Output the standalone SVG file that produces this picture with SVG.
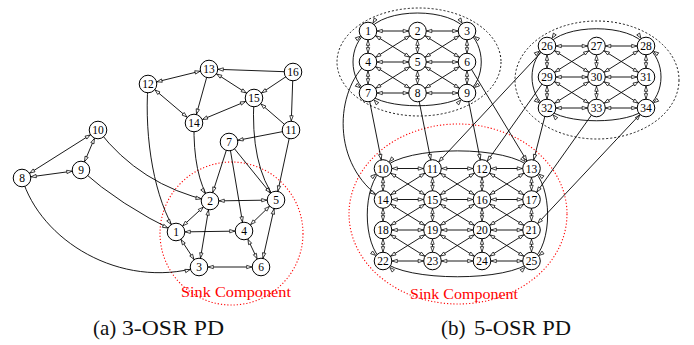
<svg xmlns="http://www.w3.org/2000/svg" width="694" height="345" viewBox="0 0 694 345">
<style>
.e{stroke:#000;stroke-width:0.9;fill:none}
.d{marker-start:url(#m);marker-end:url(#m)}
.s{marker-end:url(#m)}
.n circle{fill:#fff;stroke:#000;stroke-width:1}
.n text{font-family:"Liberation Serif",serif;font-size:11.5px;text-anchor:middle;fill:#000}
.red{fill:none;stroke:#f00;stroke-width:1.1;stroke-dasharray:1.2 2}
.blk{fill:none;stroke:#000;stroke-width:0.9;stroke-dasharray:2 2}
.lab{font-family:"Liberation Serif",serif;font-size:15px;fill:#f00}
.cap{font-family:"Liberation Serif",serif;font-size:21px;fill:#111}
</style>
<defs>
<marker id="m" markerUnits="userSpaceOnUse" markerWidth="6" markerHeight="4" refX="14.3" refY="1.7" orient="auto-start-reverse" overflow="visible">
<path d="M0,0 L5,1.7 L0,3.4 z" fill="#fff" stroke="#000" stroke-width="0.7"/>
</marker>
</defs>
<g id="regions">
<circle class="red" cx="231.5" cy="233.5" r="71.5"/>
<ellipse class="red" cx="458" cy="214" rx="109" ry="90"/>
<ellipse class="blk" cx="419" cy="62" rx="82" ry="54"/>
<ellipse class="blk" cx="597" cy="80" rx="82" ry="59"/>
</g>
<g id="connectors" class="e">
<line class="d" x1="22" y1="178" x2="98" y2="130"/>
<line class="d" x1="22" y1="178" x2="81" y2="170"/>
<line class="d" x1="81" y1="170" x2="98" y2="130"/>
<line class="d" x1="148" y1="84" x2="209" y2="69"/>
<line class="d" x1="148" y1="84" x2="194" y2="123"/>
<line class="d" x1="209" y1="69" x2="254" y2="98"/>
<line class="d" x1="194" y1="123" x2="254" y2="98"/>
<line class="d" x1="210" y1="201" x2="276" y2="200"/>
<line class="d" x1="176" y1="232" x2="210" y2="201"/>
<line class="d" x1="210" y1="201" x2="199" y2="267"/>
<line class="d" x1="176" y1="232" x2="244" y2="231"/>
<line class="d" x1="176" y1="232" x2="199" y2="267"/>
<line class="d" x1="244" y1="231" x2="276" y2="200"/>
<line class="d" x1="276" y1="200" x2="261" y2="267"/>
<line class="d" x1="244" y1="231" x2="261" y2="267"/>
<line class="d" x1="199" y1="267" x2="261" y2="267"/>
<path class="s" d="M98,130 Q140,185 210,201"/>
<path class="s" d="M81,170 Q120,205 176,232"/>
<path class="s" d="M22,178 C40,240 120,290 199,267"/>
<path class="s" d="M148,84 C144,140 155,200 176,232"/>
<line class="s" x1="209" y1="69" x2="194" y2="123"/>
<line class="s" x1="293" y1="72" x2="209" y2="69"/>
<line class="s" x1="293" y1="72" x2="254" y2="98"/>
<line class="s" x1="293" y1="72" x2="291" y2="130"/>
<line class="s" x1="291" y1="130" x2="254" y2="98"/>
<line class="s" x1="291" y1="130" x2="229" y2="142"/>
<line class="s" x1="291" y1="130" x2="276" y2="200"/>
<path class="s" d="M254,98 Q250,165 276,200"/>
<path class="s" d="M194,123 Q193,175 210,201"/>
<line class="s" x1="229" y1="142" x2="210" y2="201"/>
<line class="s" x1="229" y1="142" x2="244" y2="231"/>
<line class="s" x1="229" y1="142" x2="276" y2="200"/>
<line class="d" x1="368" y1="31" x2="417.5" y2="31"/>
<line class="d" x1="417.5" y1="31" x2="467" y2="31"/>
<line class="d" x1="368" y1="62" x2="417.5" y2="62"/>
<line class="d" x1="417.5" y1="62" x2="467" y2="62"/>
<line class="d" x1="368" y1="93" x2="417.5" y2="93"/>
<line class="d" x1="417.5" y1="93" x2="467" y2="93"/>
<line class="d" x1="368" y1="31" x2="368" y2="62"/>
<line class="d" x1="368" y1="62" x2="368" y2="93"/>
<line class="d" x1="417.5" y1="31" x2="417.5" y2="62"/>
<line class="d" x1="417.5" y1="62" x2="417.5" y2="93"/>
<line class="d" x1="467" y1="31" x2="467" y2="62"/>
<line class="d" x1="467" y1="62" x2="467" y2="93"/>
<line class="d" x1="368" y1="31" x2="417.5" y2="62"/>
<line class="d" x1="417.5" y1="31" x2="368" y2="62"/>
<line class="d" x1="417.5" y1="31" x2="467" y2="62"/>
<line class="d" x1="467" y1="31" x2="417.5" y2="62"/>
<line class="d" x1="368" y1="62" x2="417.5" y2="93"/>
<line class="d" x1="417.5" y1="62" x2="368" y2="93"/>
<line class="d" x1="417.5" y1="62" x2="467" y2="93"/>
<line class="d" x1="467" y1="62" x2="417.5" y2="93"/>
<path class="d" d="M368,31 C383,7 452,7 467,31"/>
<path class="d" d="M368,93 C383,110 452,110 467,93"/>
<path class="d" d="M368,31 C348,45 348,79 368,93"/>
<path class="d" d="M467,31 C486,45 486,79 467,93"/>
<line class="d" x1="547" y1="46" x2="596.5" y2="46"/>
<line class="d" x1="596.5" y1="46" x2="646" y2="46"/>
<line class="d" x1="547" y1="77" x2="596.5" y2="77"/>
<line class="d" x1="596.5" y1="77" x2="646" y2="77"/>
<line class="d" x1="547" y1="108" x2="596.5" y2="108"/>
<line class="d" x1="596.5" y1="108" x2="646" y2="108"/>
<line class="d" x1="547" y1="46" x2="547" y2="77"/>
<line class="d" x1="547" y1="77" x2="547" y2="108"/>
<line class="d" x1="596.5" y1="46" x2="596.5" y2="77"/>
<line class="d" x1="596.5" y1="77" x2="596.5" y2="108"/>
<line class="d" x1="646" y1="46" x2="646" y2="77"/>
<line class="d" x1="646" y1="77" x2="646" y2="108"/>
<line class="d" x1="547" y1="46" x2="596.5" y2="77"/>
<line class="d" x1="596.5" y1="46" x2="547" y2="77"/>
<line class="d" x1="596.5" y1="46" x2="646" y2="77"/>
<line class="d" x1="646" y1="46" x2="596.5" y2="77"/>
<line class="d" x1="547" y1="77" x2="596.5" y2="108"/>
<line class="d" x1="596.5" y1="77" x2="547" y2="108"/>
<line class="d" x1="596.5" y1="77" x2="646" y2="108"/>
<line class="d" x1="646" y1="77" x2="596.5" y2="108"/>
<path class="d" d="M547,46 C562,23 631,23 646,46"/>
<path class="d" d="M547,108 C562,125 631,125 646,108"/>
<path class="d" d="M547,46 C527,60 527,94 547,108"/>
<path class="d" d="M646,46 C666,60 666,94 646,108"/>
<line class="d" x1="383" y1="168.5" x2="432.5" y2="168.5"/>
<line class="d" x1="432.5" y1="168.5" x2="482" y2="168.5"/>
<line class="d" x1="482" y1="168.5" x2="531.5" y2="168.5"/>
<line class="d" x1="383" y1="199.5" x2="432.5" y2="199.5"/>
<line class="d" x1="432.5" y1="199.5" x2="482" y2="199.5"/>
<line class="d" x1="482" y1="199.5" x2="531.5" y2="199.5"/>
<line class="d" x1="383" y1="230" x2="432.5" y2="230"/>
<line class="d" x1="432.5" y1="230" x2="482" y2="230"/>
<line class="d" x1="482" y1="230" x2="531.5" y2="230"/>
<line class="d" x1="383" y1="261" x2="432.5" y2="261"/>
<line class="d" x1="432.5" y1="261" x2="482" y2="261"/>
<line class="d" x1="482" y1="261" x2="531.5" y2="261"/>
<line class="d" x1="383" y1="168.5" x2="383" y2="199.5"/>
<line class="d" x1="383" y1="199.5" x2="383" y2="230"/>
<line class="d" x1="383" y1="230" x2="383" y2="261"/>
<line class="d" x1="432.5" y1="168.5" x2="432.5" y2="199.5"/>
<line class="d" x1="432.5" y1="199.5" x2="432.5" y2="230"/>
<line class="d" x1="432.5" y1="230" x2="432.5" y2="261"/>
<line class="d" x1="482" y1="168.5" x2="482" y2="199.5"/>
<line class="d" x1="482" y1="199.5" x2="482" y2="230"/>
<line class="d" x1="482" y1="230" x2="482" y2="261"/>
<line class="d" x1="531.5" y1="168.5" x2="531.5" y2="199.5"/>
<line class="d" x1="531.5" y1="199.5" x2="531.5" y2="230"/>
<line class="d" x1="531.5" y1="230" x2="531.5" y2="261"/>
<line class="d" x1="383" y1="168.5" x2="432.5" y2="199.5"/>
<line class="d" x1="432.5" y1="168.5" x2="383" y2="199.5"/>
<line class="d" x1="432.5" y1="168.5" x2="482" y2="199.5"/>
<line class="d" x1="482" y1="168.5" x2="432.5" y2="199.5"/>
<line class="d" x1="482" y1="168.5" x2="531.5" y2="199.5"/>
<line class="d" x1="531.5" y1="168.5" x2="482" y2="199.5"/>
<line class="d" x1="383" y1="199.5" x2="432.5" y2="230"/>
<line class="d" x1="432.5" y1="199.5" x2="383" y2="230"/>
<line class="d" x1="432.5" y1="199.5" x2="482" y2="230"/>
<line class="d" x1="482" y1="199.5" x2="432.5" y2="230"/>
<line class="d" x1="482" y1="199.5" x2="531.5" y2="230"/>
<line class="d" x1="531.5" y1="199.5" x2="482" y2="230"/>
<line class="d" x1="383" y1="230" x2="432.5" y2="261"/>
<line class="d" x1="432.5" y1="230" x2="383" y2="261"/>
<line class="d" x1="432.5" y1="230" x2="482" y2="261"/>
<line class="d" x1="482" y1="230" x2="432.5" y2="261"/>
<line class="d" x1="482" y1="230" x2="531.5" y2="261"/>
<line class="d" x1="531.5" y1="230" x2="482" y2="261"/>
<path class="d" d="M383,168.5 C405,145 510,145 531.5,168.5"/>
<path class="d" d="M383,261 C405,282 510,282 531.5,261"/>
<path class="d" d="M383,168.5 C362,185 362,245 383,261"/>
<path class="d" d="M531.5,168.5 C553,185 553,245 531.5,261"/>
<line class="s" x1="368" y1="93" x2="383" y2="168.5"/>
<line class="s" x1="417.5" y1="93" x2="432.5" y2="168.5"/>
<line class="s" x1="467" y1="93" x2="482" y2="168.5"/>
<line class="s" x1="467" y1="62" x2="531.5" y2="168.5"/>
<path class="s" d="M368,62 C335,90 330,165 383,199.5"/>
<line class="s" x1="547" y1="46" x2="432.5" y2="168.5"/>
<line class="s" x1="547" y1="77" x2="482" y2="168.5"/>
<line class="s" x1="547" y1="108" x2="531.5" y2="168.5"/>
<line class="s" x1="596.5" y1="108" x2="531.5" y2="199.5"/>
<line class="s" x1="646" y1="108" x2="531.5" y2="230"/>
</g>
<g id="nodes-a">
<g id="a1" class="n"><circle cx="176" cy="232" r="8.8"/><text x="176" y="236">1</text></g>
<g id="a2" class="n"><circle cx="210" cy="201" r="8.8"/><text x="210" y="205">2</text></g>
<g id="a3" class="n"><circle cx="199" cy="267" r="8.8"/><text x="199" y="271">3</text></g>
<g id="a4" class="n"><circle cx="244" cy="231" r="8.8"/><text x="244" y="235">4</text></g>
<g id="a5" class="n"><circle cx="276" cy="200" r="8.8"/><text x="276" y="204">5</text></g>
<g id="a6" class="n"><circle cx="261" cy="267" r="8.8"/><text x="261" y="271">6</text></g>
<g id="a7" class="n"><circle cx="229" cy="142" r="8.8"/><text x="229" y="146">7</text></g>
<g id="a8" class="n"><circle cx="22" cy="178" r="8.8"/><text x="22" y="182">8</text></g>
<g id="a9" class="n"><circle cx="81" cy="170" r="8.8"/><text x="81" y="174">9</text></g>
<g id="a10" class="n"><circle cx="98" cy="130" r="8.8"/><text x="98" y="134">10</text></g>
<g id="a11" class="n"><circle cx="291" cy="130" r="8.8"/><text x="291" y="134">11</text></g>
<g id="a12" class="n"><circle cx="148" cy="84" r="8.8"/><text x="148" y="88">12</text></g>
<g id="a13" class="n"><circle cx="209" cy="69" r="8.8"/><text x="209" y="73">13</text></g>
<g id="a14" class="n"><circle cx="194" cy="123" r="8.8"/><text x="194" y="127">14</text></g>
<g id="a15" class="n"><circle cx="254" cy="98" r="8.8"/><text x="254" y="102">15</text></g>
<g id="a16" class="n"><circle cx="293" cy="72" r="8.8"/><text x="293" y="76">16</text></g>
</g>
<g id="nodes-b">
<g id="b1" class="n"><circle cx="368" cy="31" r="8.8"/><text x="368" y="35">1</text></g>
<g id="b2" class="n"><circle cx="417.5" cy="31" r="8.8"/><text x="417.5" y="35">2</text></g>
<g id="b3" class="n"><circle cx="467" cy="31" r="8.8"/><text x="467" y="35">3</text></g>
<g id="b4" class="n"><circle cx="368" cy="62" r="8.8"/><text x="368" y="66">4</text></g>
<g id="b5" class="n"><circle cx="417.5" cy="62" r="8.8"/><text x="417.5" y="66">5</text></g>
<g id="b6" class="n"><circle cx="467" cy="62" r="8.8"/><text x="467" y="66">6</text></g>
<g id="b7" class="n"><circle cx="368" cy="93" r="8.8"/><text x="368" y="97">7</text></g>
<g id="b8" class="n"><circle cx="417.5" cy="93" r="8.8"/><text x="417.5" y="97">8</text></g>
<g id="b9" class="n"><circle cx="467" cy="93" r="8.8"/><text x="467" y="97">9</text></g>
<g id="b10" class="n"><circle cx="383" cy="168.5" r="8.8"/><text x="383" y="172.5">10</text></g>
<g id="b11" class="n"><circle cx="432.5" cy="168.5" r="8.8"/><text x="432.5" y="172.5">11</text></g>
<g id="b12" class="n"><circle cx="482" cy="168.5" r="8.8"/><text x="482" y="172.5">12</text></g>
<g id="b13" class="n"><circle cx="531.5" cy="168.5" r="8.8"/><text x="531.5" y="172.5">13</text></g>
<g id="b14" class="n"><circle cx="383" cy="199.5" r="8.8"/><text x="383" y="203.5">14</text></g>
<g id="b15" class="n"><circle cx="432.5" cy="199.5" r="8.8"/><text x="432.5" y="203.5">15</text></g>
<g id="b16" class="n"><circle cx="482" cy="199.5" r="8.8"/><text x="482" y="203.5">16</text></g>
<g id="b17" class="n"><circle cx="531.5" cy="199.5" r="8.8"/><text x="531.5" y="203.5">17</text></g>
<g id="b18" class="n"><circle cx="383" cy="230" r="8.8"/><text x="383" y="234">18</text></g>
<g id="b19" class="n"><circle cx="432.5" cy="230" r="8.8"/><text x="432.5" y="234">19</text></g>
<g id="b20" class="n"><circle cx="482" cy="230" r="8.8"/><text x="482" y="234">20</text></g>
<g id="b21" class="n"><circle cx="531.5" cy="230" r="8.8"/><text x="531.5" y="234">21</text></g>
<g id="b22" class="n"><circle cx="383" cy="261" r="8.8"/><text x="383" y="265">22</text></g>
<g id="b23" class="n"><circle cx="432.5" cy="261" r="8.8"/><text x="432.5" y="265">23</text></g>
<g id="b24" class="n"><circle cx="482" cy="261" r="8.8"/><text x="482" y="265">24</text></g>
<g id="b25" class="n"><circle cx="531.5" cy="261" r="8.8"/><text x="531.5" y="265">25</text></g>
<g id="b26" class="n"><circle cx="547" cy="46" r="8.8"/><text x="547" y="50">26</text></g>
<g id="b27" class="n"><circle cx="596.5" cy="46" r="8.8"/><text x="596.5" y="50">27</text></g>
<g id="b28" class="n"><circle cx="646" cy="46" r="8.8"/><text x="646" y="50">28</text></g>
<g id="b29" class="n"><circle cx="547" cy="77" r="8.8"/><text x="547" y="81">29</text></g>
<g id="b30" class="n"><circle cx="596.5" cy="77" r="8.8"/><text x="596.5" y="81">30</text></g>
<g id="b31" class="n"><circle cx="646" cy="77" r="8.8"/><text x="646" y="81">31</text></g>
<g id="b32" class="n"><circle cx="547" cy="108" r="8.8"/><text x="547" y="112">32</text></g>
<g id="b33" class="n"><circle cx="596.5" cy="108" r="8.8"/><text x="596.5" y="112">33</text></g>
<g id="b34" class="n"><circle cx="646" cy="108" r="8.8"/><text x="646" y="112">34</text></g>
</g>
<g id="labels">
<text class="lab" x="181" y="297" textLength="110" lengthAdjust="spacingAndGlyphs">Sink Component</text>
<text class="lab" x="410" y="299" textLength="108" lengthAdjust="spacingAndGlyphs">Sink Component</text>
<text class="cap" x="93" y="335">(a)</text>
<text class="cap" x="122" y="335" textLength="102" lengthAdjust="spacingAndGlyphs">3-OSR PD</text>
<text class="cap" x="441" y="335">(b)</text>
<text class="cap" x="474" y="335" textLength="97" lengthAdjust="spacingAndGlyphs">5-OSR PD</text>
</g>
</svg>
